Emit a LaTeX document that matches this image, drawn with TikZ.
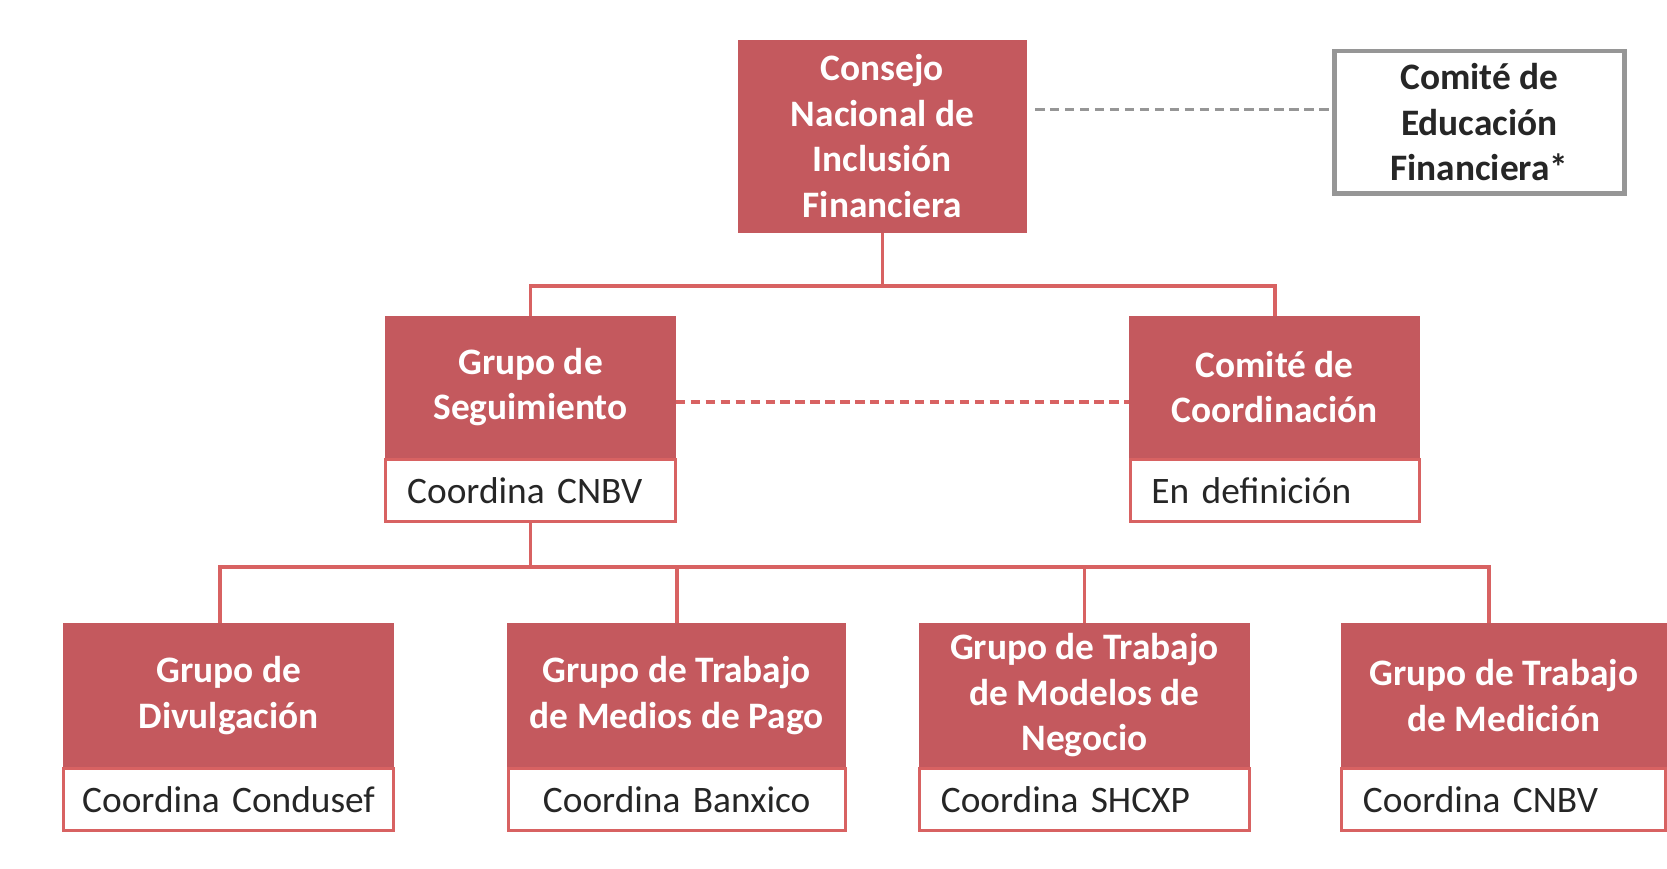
\documentclass[tikz,border=0pt]{standalone}
\usepackage{fontspec}
\setmainfont{Carlito}
\usetikzlibrary{positioning}
\hyphenpenalty=10000
\definecolor{boxred}{RGB}{196,89,94}
\definecolor{linered}{RGB}{216,98,98}
\definecolor{framegray}{RGB}{150,150,150}
\tikzset{
  headbox/.style={rectangle,fill=boxred,draw=boxred,text=white,inner sep=0pt,
    font=\fontsize{10}{12.2}\selectfont\bfseries,align=center},
  subbox/.style={rectangle,draw=linered,fill=white,line width=0.8pt,text=black!85,
    font=\fontsize{10}{12.2}\selectfont,align=left,text width=#1,
    inner xsep=0.2cm,inner ysep=0pt,minimum height=0.58cm},
  edubox/.style={rectangle,draw=framegray,line width=1.2pt,fill=white,text=black!85,
    font=\fontsize{10}{12.2}\selectfont\bfseries,align=center,inner sep=0pt},
  link/.style={draw=linered,line width=1pt},
  graydash/.style={draw=framegray,line width=1pt,dash pattern=on 2.5pt off 1.5pt},
  reddash/.style={draw=linered,line width=1pt,dash pattern=on 2.5pt off 1.5pt}
}
\begin{document}
\begin{tikzpicture}[node distance=0pt]
\useasboundingbox (0,0) rectangle (15.68,-8.17);

\node[headbox,minimum width=2.70cm,minimum height=1.80cm] (consejo) at (8.30,-1.28) {Consejo\\Nacional de\\Inclusión\\Financiera};
\node[edubox,minimum width=2.73cm,minimum height=1.34cm] (educacion) at (13.915,-1.15) {Comité de\\Educación\\Financiera*};

\node[headbox,minimum width=2.72cm,minimum height=1.32cm] (seguimiento) at (4.99,-3.64) {Grupo de\\Seguimiento};
\node[subbox=2.32cm,below=of seguimiento] (seguimientoC) {Coordina CNBV};
\node[headbox,minimum width=2.72cm,minimum height=1.32cm] (coordinacion) at (11.99,-3.64) {Comité de\\Coordinación};
\node[subbox=2.32cm,below=of coordinacion] (coordinacionC) {En definición};

\node[headbox,minimum width=3.10cm,minimum height=1.34cm] (divulgacion) at (2.15,-6.54) {Grupo de\\Divulgación};
\node[subbox=2.90cm,inner xsep=0.1cm,align=center,below=of divulgacion] (divulgacionC) {Coordina Condusef};
\node[headbox,minimum width=3.17cm,minimum height=1.34cm] (medios) at (6.365,-6.54) {Grupo de Trabajo\\de Medios de Pago};
\node[subbox=2.77cm,align=center,below=of medios] (mediosC) {Coordina Banxico};
\node[headbox,minimum width=3.10cm,minimum height=1.34cm] (modelos) at (10.20,-6.54) {Grupo de Trabajo\\de Modelos de\\Negocio};
\node[subbox=2.70cm,below=of modelos] (modelosC) {Coordina SHCXP};
\node[headbox,minimum width=3.05cm,minimum height=1.34cm] (medicion) at (14.145,-6.54) {Grupo de Trabajo\\de Medición};
\node[subbox=2.65cm,below=of medicion] (medicionC) {Coordina CNBV};

\draw[graydash] ([xshift=0.8mm,yshift=2.5mm]consejo.east) -- ([yshift=2.5mm]consejo.east -| educacion.west);
\draw[link] (consejo.south) -- ++(0,-0.50) coordinate (bus1);
\draw[link] (seguimiento.north) |- (bus1) -| (coordinacion.north);
\draw[reddash] ([yshift=-1.4mm]seguimiento.east) -- ([yshift=-1.4mm]coordinacion.west);

\draw[link] (seguimientoC.south) -- ++(0,-0.42) coordinate (bus2);
\draw[link] ([xshift=-0.8mm]divulgacion.north) |- (bus2) -| ([xshift=-1.4mm]medicion.north);
\draw[link] (medios.north) -- (medios.north |- bus2);
\draw[link] (modelos.north) -- (modelos.north |- bus2);
\end{tikzpicture}
\end{document}
